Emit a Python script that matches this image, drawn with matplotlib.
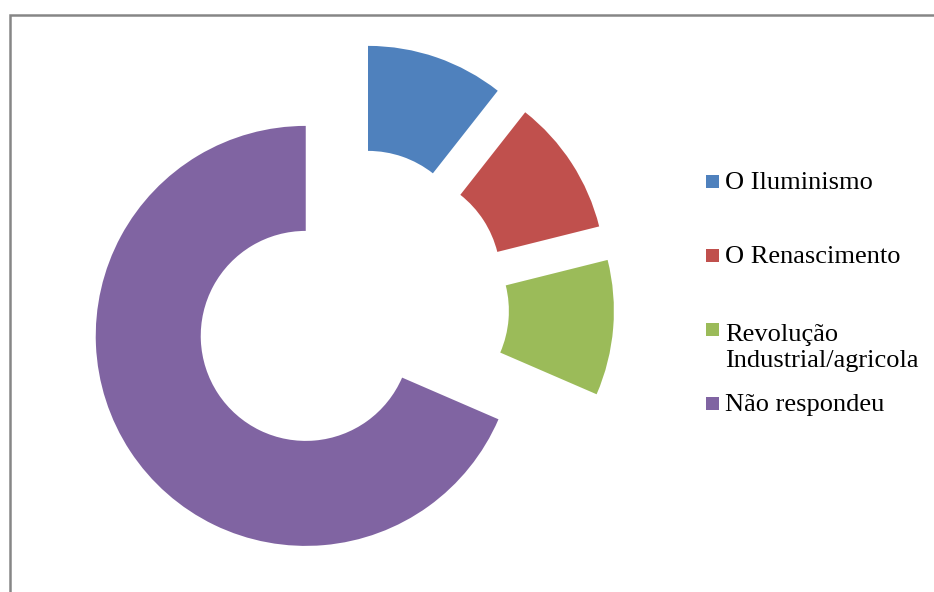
import matplotlib.pyplot as plt
from matplotlib.patches import Rectangle

# dados do gráfico
labels = ['O Iluminismo', 'O Renascimento', 'Revolução\nIndustrial/agricola', 'Não respondeu']
values = [10.6, 10.5, 10.4, 68.5]
colors = ['#4F81BD', '#C0504D', '#9BBB59', '#8064A2']

W, H = 934, 592
fig = plt.figure(figsize=(W / 100, H / 100), dpi=100)

# centro da rosca ~ (350.5, 306.5) px, raio externo 210 px
cx, cy, r = 350.5, 306.5, 210
ax = fig.add_axes([(cx - 330) / W, (H - cy - 280) / H, 660 / W, 560 / H])
ax.pie(values, colors=colors, startangle=90, counterclock=False,
       explode=[0.255] * len(values),
       wedgeprops=dict(width=0.5, linewidth=0))
ax.set_xlim(-330 / r, 330 / r)
ax.set_ylim(-280 / r, 280 / r)
ax.axis('off')

# legenda manual (espaçamento irregular como no original)
leg_y = [183, 257, 348, 405.5]
sq_y = [181, 255, 329.5, 403.5]
for lab, col, ty, sy in zip(labels, colors, leg_y, sq_y):
    fig.patches.append(Rectangle((706 / W, 1 - (sy + 6.5) / H), 13 / W, 13 / H,
                                 transform=fig.transFigure, color=col, lw=0))
    fig.text(725 / W, 1 - ty / H, lab, fontsize=19, family='Liberation Serif',
             va='center', ha='left', linespacing=1.22)

# borda cinza da área do gráfico
fig.patches.append(Rectangle((9.5 / W, -0.1), 1.2, 1.1 - 15 / H,
                             transform=fig.transFigure, fill=False,
                             edgecolor='#868686', lw=1.8))

plt.savefig('out.png', dpi=100)
